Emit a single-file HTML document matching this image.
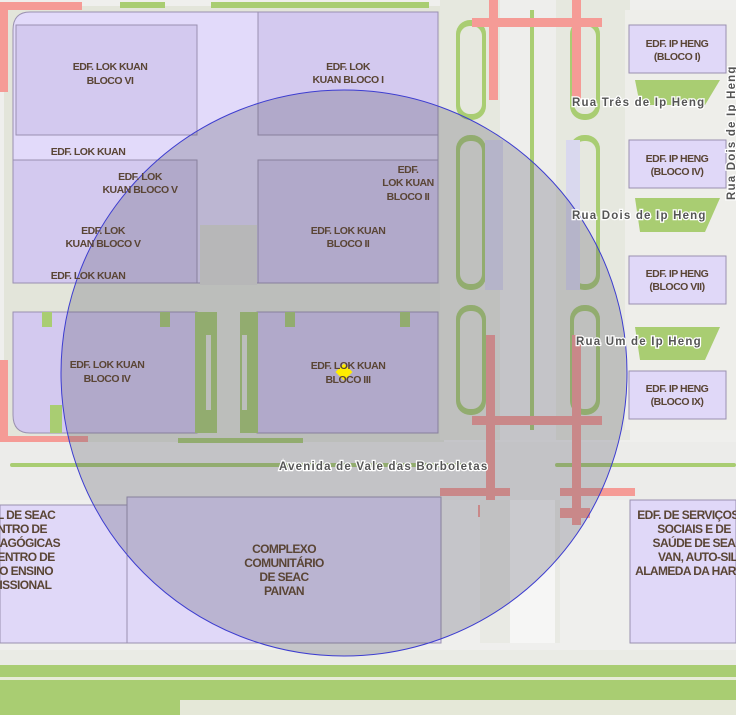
<!DOCTYPE html>
<html><head><meta charset="utf-8"><style>
html,body{margin:0;padding:0;background:#f0f0ee}
svg{display:block}
text{font-family:"Liberation Sans",sans-serif;font-weight:bold}
.b{fill:#5a4535;font-size:10.5px;text-anchor:middle;letter-spacing:-0.5px}
.c{fill:#5a4535;font-size:12px;text-anchor:middle;letter-spacing:-0.6px}
.r{fill:#555;font-size:11.5px;letter-spacing:1.2px;stroke:#fff;stroke-width:2.5px;paint-order:stroke}
</style></head><body>
<svg width="736" height="715" viewBox="0 0 736 715" xmlns="http://www.w3.org/2000/svg">
<rect width="736" height="715" fill="#efefed"/>
<rect x="4" y="6" width="440" height="436" fill="#e3e5da"/>
<rect x="440" y="0" width="190" height="440" fill="#e6e8df"/>
<rect x="625" y="10" width="111" height="420" fill="#eeeeea"/>
<rect x="120" y="2" width="45" height="6" fill="#a9cd72"/>
<rect x="211" y="2" width="218" height="6" fill="#a9cd72"/>
<rect x="0" y="2" width="82" height="8" fill="#f59b96"/>
<rect x="0" y="2" width="8" height="90" fill="#f59b96"/>
<rect x="0" y="360" width="8" height="85" fill="#f59b96"/>
<rect x="0" y="436" width="88" height="8" fill="#f59b96"/>
<path d="M30 12 H438 V283 H13 V30 Q13 12 30 12Z" fill="#e2dafa" stroke="#9a90b0"/>
<path d="M16 25 H197 V135 H16Z" fill="#d3c9ef" stroke="#9a90b0"/>
<path d="M258 12 H438 V135 H258Z" fill="#d3c9ef" stroke="#9a90b0"/>
<path d="M13 160 H197 V283 H13Z" fill="#d3c9ef" stroke="#9a90b0"/>
<path d="M258 160 H438 V283 H258Z" fill="#d3c9ef" stroke="#9a90b0"/>
<rect x="200" y="225" width="57" height="60" fill="#dcdcd6"/>
<path d="M13 312 H197 V433 H30 Q13 433 13 415Z" fill="#d3c9ef" stroke="#9a90b0"/>
<path d="M257 312 H438 V433 H257Z" fill="#d3c9ef" stroke="#9a90b0"/>
<rect x="195" y="312" width="22" height="121" fill="#a9cd72"/>
<rect x="240" y="312" width="18" height="121" fill="#a9cd72"/>
<rect x="206" y="335" width="5" height="75" fill="#e3e5da"/>
<rect x="242" y="335" width="5" height="75" fill="#e3e5da"/>
<rect x="42" y="312" width="10" height="15" fill="#a9cd72"/>
<rect x="160" y="312" width="10" height="15" fill="#a9cd72"/>
<rect x="285" y="312" width="10" height="15" fill="#a9cd72"/>
<rect x="400" y="312" width="10" height="15" fill="#a9cd72"/>
<rect x="50" y="405" width="12" height="28" fill="#a9cd72"/>
<rect x="0" y="442" width="736" height="58" fill="#ececea"/>
<rect x="10" y="463" width="430" height="4" rx="2" fill="#a9cd72"/>
<rect x="400" y="463" width="80" height="4" rx="2" fill="#a9cd72"/>
<rect x="555" y="463" width="181" height="4" rx="2" fill="#a9cd72"/>
<rect x="178" y="438" width="125" height="5" fill="#a9cd72"/>
<rect x="500" y="0" width="56" height="440" fill="#eeeeec"/>
<rect x="530" y="10" width="4" height="420" fill="#a9cd72"/>
<g fill="#a9cd72">
<rect x="456" y="20" width="30" height="100" rx="14"/>
<rect x="456" y="135" width="30" height="155" rx="14"/>
<rect x="456" y="305" width="30" height="110" rx="14"/>
<rect x="570" y="20" width="30" height="100" rx="14"/>
<rect x="570" y="135" width="30" height="155" rx="14"/>
<rect x="570" y="305" width="30" height="110" rx="14"/>
</g>
<g fill="#e6e8df">
<rect x="460" y="26" width="22" height="88" rx="10"/>
<rect x="460" y="141" width="22" height="143" rx="10"/>
<rect x="460" y="311" width="22" height="98" rx="10"/>
<rect x="574" y="26" width="22" height="88" rx="10"/>
<rect x="574" y="141" width="22" height="143" rx="10"/>
<rect x="574" y="311" width="22" height="98" rx="10"/>
</g>
<rect x="485" y="140" width="18" height="150" fill="#d9d8ee"/>
<rect x="566" y="140" width="14" height="150" fill="#d9d8ee"/>
<g fill="#f59b96">
<rect x="472" y="18" width="130" height="9"/>
<rect x="489" y="0" width="9" height="100"/>
<rect x="572" y="0" width="9" height="100"/>
<rect x="472" y="416" width="130" height="9"/>
<rect x="486" y="335" width="9" height="180"/>
<rect x="572" y="335" width="9" height="190"/>
<rect x="440" y="488" width="70" height="8"/>
<rect x="560" y="488" width="75" height="8"/>
<rect x="478" y="505" width="25" height="12"/>
<rect x="560" y="508" width="30" height="10"/>
</g>
<g fill="#e0d8f8" stroke="#9a90b0">
<rect x="629" y="25" width="97" height="48"/>
<rect x="629" y="140" width="97" height="48"/>
<rect x="629" y="256" width="97" height="48"/>
<rect x="629" y="371" width="97" height="48"/>
</g>
<g fill="#a9cd72">
<path d="M635 80 H720 L705 105 H640Z"/>
<path d="M635 198 H720 L705 232 H640Z"/>
<path d="M635 327 H720 L705 360 H640Z"/>
</g>
<rect x="0" y="505" width="127" height="138" fill="#e0d8f8" stroke="#9a90b0"/>
<rect x="127" y="497" width="314" height="146" fill="#e0d8f8" stroke="#9a90b0"/>
<rect x="630" y="500" width="106" height="143" fill="#e0d8f8" stroke="#9a90b0"/>
<rect x="480" y="500" width="80" height="143" fill="#e9eae4"/>
<rect x="510" y="500" width="45" height="143" fill="#f6f6f5"/>
<rect x="0" y="650" width="736" height="15" fill="#eaebe5"/>
<rect x="0" y="665" width="736" height="50" fill="#a9cd72"/>
<rect x="0" y="677" width="736" height="3" fill="#e8ecd8"/>
<rect x="0" y="700" width="736" height="15" fill="#e5e8d8"/>
<rect x="0" y="700" width="180" height="15" fill="#a9cd72"/>
<circle cx="344" cy="373" r="283" fill="rgba(85,85,105,0.27)" stroke="#3d3dd0" stroke-width="1"/>
<rect x="338" y="366" width="12" height="12" fill="#ffee00" transform="rotate(45 344 372)"/>
<g class="b">
<text x="110" y="70">EDF. LOK KUAN</text><text x="110" y="84">BLOCO VI</text>
<text x="348" y="70">EDF. LOK</text><text x="348" y="83">KUAN BLOCO I</text>
<text x="88" y="155">EDF. LOK KUAN</text>
<text x="140" y="180">EDF. LOK</text><text x="140" y="193">KUAN BLOCO V</text>
<text x="103" y="234">EDF. LOK</text><text x="103" y="247">KUAN BLOCO V</text>
<text x="88" y="279">EDF. LOK KUAN</text>
<text x="408" y="173">EDF.</text><text x="408" y="186">LOK KUAN</text><text x="408" y="200">BLOCO II</text>
<text x="348" y="234">EDF. LOK KUAN</text><text x="348" y="247">BLOCO II</text>
<text x="107" y="368">EDF. LOK KUAN</text><text x="107" y="382">BLOCO IV</text>
<text x="348" y="369">EDF. LOK KUAN</text><text x="348" y="383">BLOCO III</text>
<text x="677" y="47">EDF. IP HENG</text><text x="677" y="60">(BLOCO I)</text>
<text x="677" y="162">EDF. IP HENG</text><text x="677" y="175">(BLOCO IV)</text>
<text x="677" y="277">EDF. IP HENG</text><text x="677" y="290">(BLOCO VII)</text>
<text x="677" y="392">EDF. IP HENG</text><text x="677" y="405">(BLOCO IX)</text>
</g>
<g class="c">
<text x="284" y="553">COMPLEXO</text><text x="284" y="567">COMUNITÁRIO</text><text x="284" y="581">DE SEAC</text><text x="284" y="595">PAIVAN</text>
<text x="688" y="519">EDF. DE SERVIÇOS</text><text x="694" y="533">SOCIAIS E DE</text><text x="698" y="547">SAÚDE DE SEAC</text><text x="702" y="561">VAN, AUTO-SILO</text><text x="704" y="575">ALAMEDA DA HARMONIA</text>
<text x="22" y="519">AL DE SEAC</text><text x="22" y="533">NTRO DE</text><text x="22" y="547">EDAGÓGICAS</text><text x="22" y="561">CENTRO DE</text><text x="22" y="575">DO ENSINO</text><text x="22" y="589">FISSIONAL</text>
</g>
<g class="r">
<text x="572" y="106">Rua Três de Ip Heng</text>
<text x="572" y="219">Rua Dois de Ip Heng</text>
<text x="576" y="345">Rua Um de Ip Heng</text>
<text x="279" y="470">Avenida de Vale das Borboletas</text>
<text transform="translate(735,200) rotate(-90)">Rua Dois de Ip Heng</text>
</g>
</svg>
</body></html>
